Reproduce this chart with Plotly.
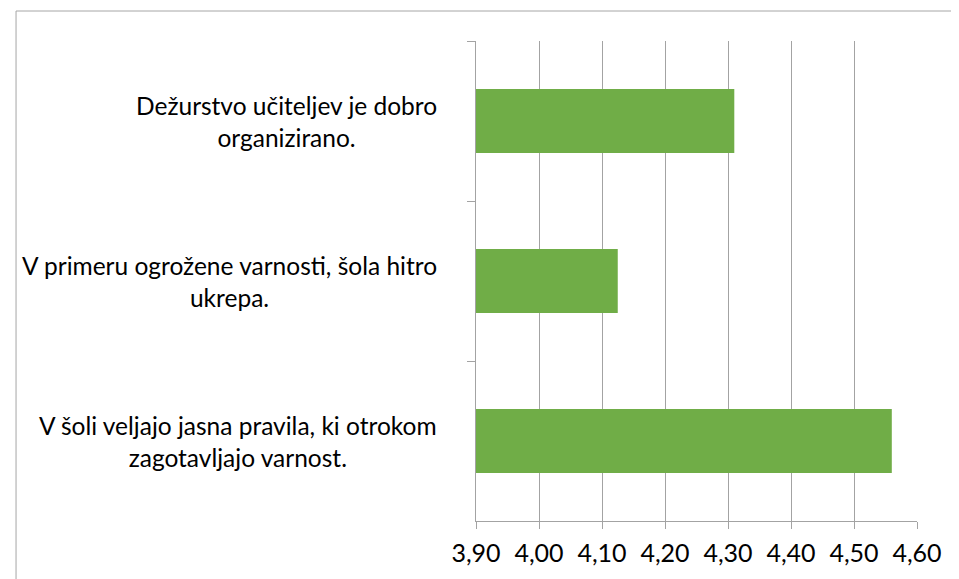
import plotly.graph_objects as go

# survey items (top to bottom) and their mean scores
items = [
    "Dežurstvo učiteljev je dobro<br>organizirano.",
    "V primeru ogrožene varnosti, šola hitro<br>ukrepa.",
    "V šoli veljajo jasna pravila, ki otrokom<br>zagotavljajo varnost.",
]
scores = [4.31, 4.125, 4.56]
x_ticks = [3.9, 4.0, 4.1, 4.2, 4.3, 4.4, 4.5, 4.6]

grid_col = "#a3a3a3"
font_name = "Lato"

fig = go.Figure(go.Bar(
    x=scores, y=items, orientation="h",
    marker=dict(color="#70AD47", line=dict(width=0)),
    hoverinfo="x+y",
))

# category labels as centred text blocks left of the axis
for it in items:
    fig.add_annotation(
        x=0, xref="paper", y=it, yref="y", text=it, showarrow=False,
        xanchor="right", yanchor="middle", align="center", xshift=-37,
        font=dict(family=font_name, size=24.5, color="#000000"),
    )

# page body has ~8px margin, so margins are shifted to compensate
fig.update_layout(
    width=959, height=579,
    margin=dict(l=468, r=50, t=33, b=66),
    plot_bgcolor="white", paper_bgcolor="white",
    bargap=0.6, showlegend=False,
    separators=", ",
    font=dict(family=font_name, size=24, color="#000000"),
    shapes=[dict(type="rect", xref="paper", yref="paper",
                 x0=-1.043, x1=1.2, y0=-0.3, y1=1.0625,
                 line=dict(color="#a6a6a6", width=1), fillcolor="rgba(0,0,0,0)", layer="below")],
)
fig.update_xaxes(
    range=[3.9, 4.6], tickvals=x_ticks, tickformat=".2f",
    showgrid=True, gridcolor=grid_col, gridwidth=1.2,
    showline=True, linecolor=grid_col, linewidth=1.2,
    ticks="outside", ticklen=7, tickcolor=grid_col, tickwidth=1.2, zeroline=False,
    ticklabelstandoff=3,
    tickfont=dict(family=font_name, size=25, color="#000000"),
)
fig.update_yaxes(
    autorange="reversed", showticklabels=False, showgrid=False,
    showline=True, linecolor=grid_col, linewidth=1.2,
    ticks="outside", tickson="boundaries", ticklen=8, tickcolor=grid_col, tickwidth=1.2,
)

fig.write_html("out.html")
